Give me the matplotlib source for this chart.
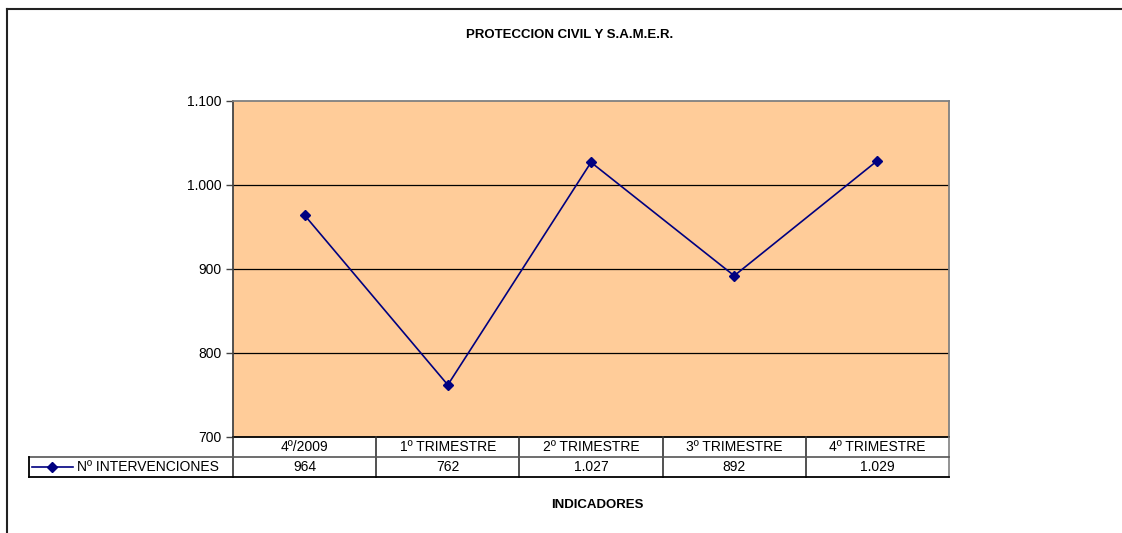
import matplotlib
matplotlib.use('Agg')
import matplotlib.pyplot as plt
from matplotlib.lines import Line2D
from matplotlib.ticker import FuncFormatter

categories = ['4º/2009', '1º TRIMESTRE', '2º TRIMESTRE', '3º TRIMESTRE', '4º TRIMESTRE']
intervenciones = [964, 762, 1027, 892, 1029]
series_name = 'Nº INTERVENCIONES'
yticks = [700, 800, 900, 1000, 1100]

plt.rcParams['font.family'] = ['Liberation Sans', 'DejaVu Sans']

W, H = 1122, 533
fig = plt.figure(figsize=(W / 100, H / 100), dpi=100)

# marco exterior (solo borde superior e izquierdo visibles)
fig.add_artist(Line2D([7 / W, 7 / W], [0, 1 - 9 / H], color='#222222', lw=1.5))
fig.add_artist(Line2D([7 / W, 1], [1 - 9 / H, 1 - 9 / H], color='#222222', lw=1.5))


def fmt(v, pos=None):
    return f'{int(v):,}'.replace(',', '.')


# area del grafico
left, right, top, bottom = 233, 949, 101, 437
ax = fig.add_axes([left / W, 1 - bottom / H, (right - left) / W, (bottom - top) / H])
ax.set_facecolor('#FFCC99')
n = len(categories)
x = list(range(n))
ax.plot(x, intervenciones, color='#000080', lw=1.2, marker='D', ms=5.5, zorder=3)
ax.set_xlim(-0.5, n - 0.5)
ax.set_ylim(yticks[0], yticks[-1])
ax.set_yticks(yticks)
ax.yaxis.set_major_formatter(FuncFormatter(fmt))
ax.set_xticks([])
for v in yticks[1:-1]:
    ax.axhline(v, color='black', lw=0.9, zorder=1)
ax.tick_params(axis='y', direction='out', length=5, width=1, color='#444444',
               labelsize=10, pad=3)
ax.spines['top'].set_color('#808080')
ax.spines['right'].set_color('#808080')
ax.spines['left'].set_color('#444444')
ax.spines['bottom'].set_color('black')
for s in ax.spines.values():
    s.set_linewidth(1.3)

# tabla de datos debajo
tab_left = 29
unit = (right - left) / n
x0 = -0.5 - (left - tab_left) / unit
tab = fig.add_axes([tab_left / W, 1 - 477 / H, (right - tab_left) / W, 40 / H])
tab.set_xlim(x0, n - 0.5)
tab.set_ylim(0, 2)
tab.axis('off')
lc = '#333333'
for i in range(n + 1):
    tab.plot([i - 0.5, i - 0.5], [0, 2], color='#808080' if i == n else lc,
             lw=1.2, clip_on=False)
tab.plot([x0, n - 0.5], [1, 1], color='#555555', lw=1.2, clip_on=False)
tab.plot([x0, n - 0.5], [0, 0], color='black', lw=1.3, clip_on=False)
tab.plot([x0, x0], [0, 1], color='black', lw=1.3, clip_on=False)
for i, (c, v) in enumerate(zip(categories, intervenciones)):
    tab.text(i, 1.5, c, ha='center', va='center', fontsize=10)
    tab.text(i, 0.5, fmt(v), ha='center', va='center', fontsize=10)
# clave de la serie
kx = x0 + 3 / unit
tab.plot([kx, kx + 41 / unit], [0.5, 0.5], color='#000080', lw=1.2, clip_on=False)
tab.plot([kx + 20 / unit], [0.5], color='#000080', marker='D', ms=5.5, clip_on=False)
tab.text(kx + 45 / unit, 0.5, series_name, ha='left', va='center', fontsize=10)

fig.text(570 / W, 1 - 35 / H, 'PROTECCION CIVIL Y S.A.M.E.R.', ha='center', va='center',
         fontsize=9.5, fontweight='bold')
fig.text(597 / W, 1 - 505 / H, 'INDICADORES', ha='center', va='center',
         fontsize=9.5, fontweight='bold')

fig.savefig('out.png', dpi=100, facecolor='white')
